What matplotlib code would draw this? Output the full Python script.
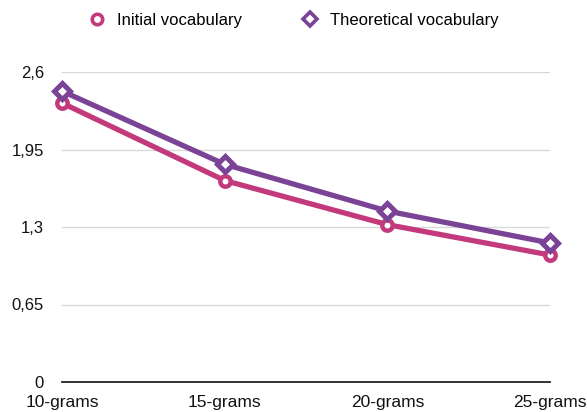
import matplotlib
matplotlib.use("Agg")
import matplotlib.pyplot as plt
from matplotlib.ticker import FixedLocator, FuncFormatter
from matplotlib.lines import Line2D

plt.rcParams['font.family'] = ['Liberation Sans', 'DejaVu Sans']

categories = ["10-grams", "15-grams", "20-grams", "25-grams"]
initial = [2.34, 1.69, 1.32, 1.065]
theoretical = [2.44, 1.826, 1.434, 1.166]
yticks = [0, 0.65, 1.3, 1.95, 2.6]

pink = "#C33A7C"
purple = "#7B4396"

fig = plt.figure(figsize=(5.87, 4.12), dpi=100)
ax = fig.add_axes([62/587, 1-382/412, (550-62)/587, (382-72)/412])

x = list(range(len(categories)))
ax.plot(x, initial, color=pink, lw=3.8, marker='o', ms=7.5, mfc='white', mec=pink, mew=3.2,
        clip_on=False, zorder=3)
ax.plot(x, theoretical, color=purple, lw=3.8, marker='D', ms=8, mfc='white', mec=purple, mew=3.6,
        clip_on=False, zorder=3)

ax.set_xlim(0, len(categories) - 1)
ax.set_ylim(0, 2.6)
ax.yaxis.set_major_locator(FixedLocator(yticks))
ax.yaxis.set_major_formatter(FuncFormatter(lambda v, p: ("%g" % v).replace('.', ',')))
ax.set_xticks(x)
ax.set_xticklabels(categories)
ax.grid(axis='y', color='#D9D9D9', lw=1)
ax.set_axisbelow(True)
for s in ['top', 'right', 'left']:
    ax.spines[s].set_visible(False)
ax.spines['bottom'].set_color('#222222')
ax.spines['bottom'].set_linewidth(1.3)
ax.tick_params(axis='both', length=0, labelsize=12, colors='#111111')
ax.tick_params(axis='y', pad=13)
ax.tick_params(axis='x', pad=9, labelsize=12.5)

handles = [
    Line2D([], [], ls='None', marker='o', ms=7.5, mfc='white', mec=pink, mew=2.6),
    Line2D([], [], ls='None', marker='D', ms=7.5, mfc='white', mec=purple, mew=2.6),
]
leg = fig.legend(handles, ["Initial vocabulary", "Theoretical vocabulary"],
                 loc='center', bbox_to_anchor=(0.5, 1 - 20/412), ncol=2, frameon=False,
                 fontsize=12, handlelength=1.0, columnspacing=3.6, handletextpad=0.7)

fig.savefig("out.png", dpi=100)
